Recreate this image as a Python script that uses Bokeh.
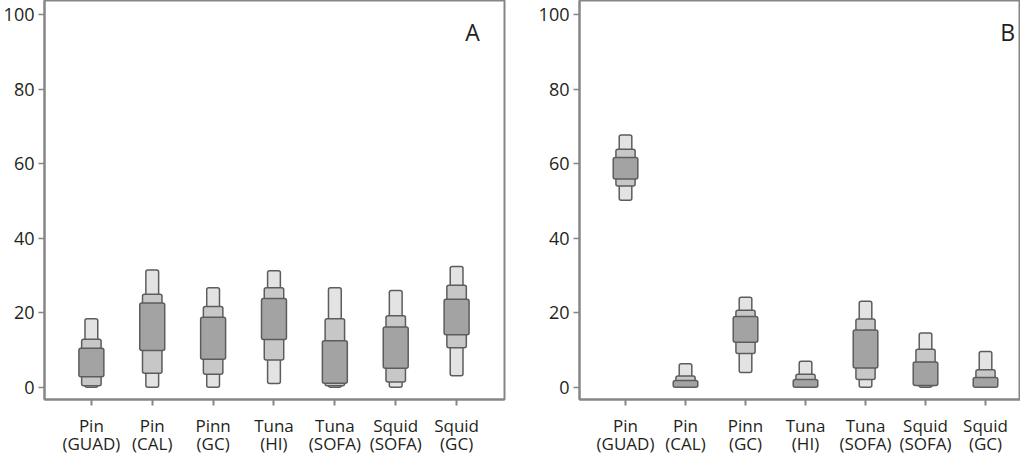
from bokeh.plotting import figure
from bokeh.models import FixedTicker, Label, Range1d, LinearAxis
from bokeh.layouts import row
from bokeh.embed import file_html
from bokeh.resources import INLINE

label_top = ["Pin", "Pin", "Pinn", "Tuna", "Tuna", "Squid", "Squid"]
label_bottom = ["(GUAD)", "(CAL)", "(GC)", "(HI)", "(SOFA)", "(SOFA)", "(GC)"]
positions = [1, 2, 3, 4, 5, 6, 7]
y_ticks = [0, 20, 40, 60, 80, 100]

# Panel A intervals (95%, 75%, 50%)
a_95_lo = [0.0, 0.0, 0.0, 1.0, 0.0, 0.0, 3.1]
a_95_hi = [18.4, 31.5, 26.7, 31.3, 26.7, 26.0, 32.4]
a_75_lo = [0.4, 3.8, 3.5, 7.3, 0.4, 1.4, 10.6]
a_75_hi = [12.9, 25.0, 21.7, 26.7, 18.4, 19.2, 27.4]
a_50_lo = [2.8, 9.9, 7.5, 12.8, 1.1, 5.1, 14.1]
a_50_hi = [10.5, 22.6, 18.8, 23.8, 12.5, 16.2, 23.6]

# Panel B intervals (95%, 75%, 50%)
b_95_lo = [50.2, 0.0, 4.0, 0.0, 0.0, 0.0, 0.0]
b_95_hi = [67.7, 6.3, 24.2, 7.0, 23.1, 14.6, 9.6]
b_75_lo = [54.0, 0.0, 9.1, 0.0, 2.1, 0.5, 0.0]
b_75_hi = [63.9, 3.0, 20.7, 3.5, 18.3, 10.2, 4.7]
b_50_lo = [55.9, 0.0, 12.1, 0.0, 5.2, 0.5, 0.0]
b_50_hi = [61.7, 1.8, 19.0, 2.1, 15.4, 6.8, 2.6]

FONT = "Open Sans"
AXIS_GRAY = "#868686"
BOX_LINE = "#5c5c5c"
TEXT = "#231f20"
FILLS = ["#e3e3e3", "#c7c7c7", "#a3a3a3"]
WIDTHS = [0.21, 0.32, 0.41]


def style_x(ax, labels, standoff, ticks_on):
    ax.ticker = FixedTicker(ticks=positions)
    ax.major_label_overrides = {pos: lab for pos, lab in zip(positions, labels)}
    ax.major_label_text_font = FONT
    ax.major_label_text_font_size = "17px"
    ax.major_label_text_color = TEXT
    ax.major_label_standoff = standoff
    ax.minor_tick_line_color = None
    ax.major_tick_in = 0
    if ticks_on:
        ax.major_tick_out = 6
        ax.axis_line_color = AXIS_GRAY
        ax.axis_line_width = 2
        ax.major_tick_line_color = AXIS_GRAY
        ax.major_tick_line_width = 2
    else:
        ax.major_tick_out = 0
        ax.axis_line_color = None
        ax.major_tick_line_color = None


def make_panel(intervals, letter, width, mbl, mbr, x_start, x_end, letter_x):
    p = figure(width=width, height=457,
               x_range=Range1d(x_start, x_end), y_range=Range1d(-3.28, 103.83),
               output_backend="svg", toolbar_location=None,
               min_border_left=mbl, min_border_right=mbr,
               min_border_top=0, min_border_bottom=0)
    p.background_fill_color = "white"
    p.border_fill_color = "white"
    p.grid.visible = False
    p.outline_line_color = AXIS_GRAY
    p.outline_line_width = 2

    for (lo, hi), fill, w in zip(intervals, FILLS, WIDTHS):
        p.vbar(x=positions, width=w, bottom=lo, top=hi,
               fill_color=fill, line_color=BOX_LINE, line_width=1.5,
               border_radius=2)

    # first line of the category labels on the main axis, second line below it
    style_x(p.xaxis[0], label_top, 8, True)
    ax2 = LinearAxis()
    style_x(ax2, label_bottom, -8, False)
    p.add_layout(ax2, "below")

    ya = p.yaxis[0]
    ya.ticker = FixedTicker(ticks=y_ticks)
    ya.major_label_text_font = FONT
    ya.major_label_text_font_size = "18px"
    ya.major_label_text_color = TEXT
    ya.major_label_standoff = 4
    ya.major_tick_out = 6
    ya.major_tick_in = 0
    ya.minor_tick_line_color = None
    ya.axis_line_color = AXIS_GRAY
    ya.axis_line_width = 2
    ya.major_tick_line_color = AXIS_GRAY
    ya.major_tick_line_width = 1.5

    p.add_layout(Label(x=letter_x, y=95.4, text=letter, text_font=FONT,
                       text_font_size="23px", text_color=TEXT,
                       text_align="center", text_baseline="middle"))
    return p


pa = make_panel([(a_95_lo, a_95_hi), (a_75_lo, a_75_hi), (a_50_lo, a_50_hi)],
                "A", 524, 43, 20, 0.23, 7.787, 7.26)
pb = make_panel([(b_95_lo, b_95_hi), (b_75_lo, b_75_hi), (b_50_lo, b_50_hi)],
                "B", 496, 55, 0, 0.233, 7.583, 7.37)

layout = row(pa, pb)
open("out.html", "w").write(file_html(layout, INLINE))
